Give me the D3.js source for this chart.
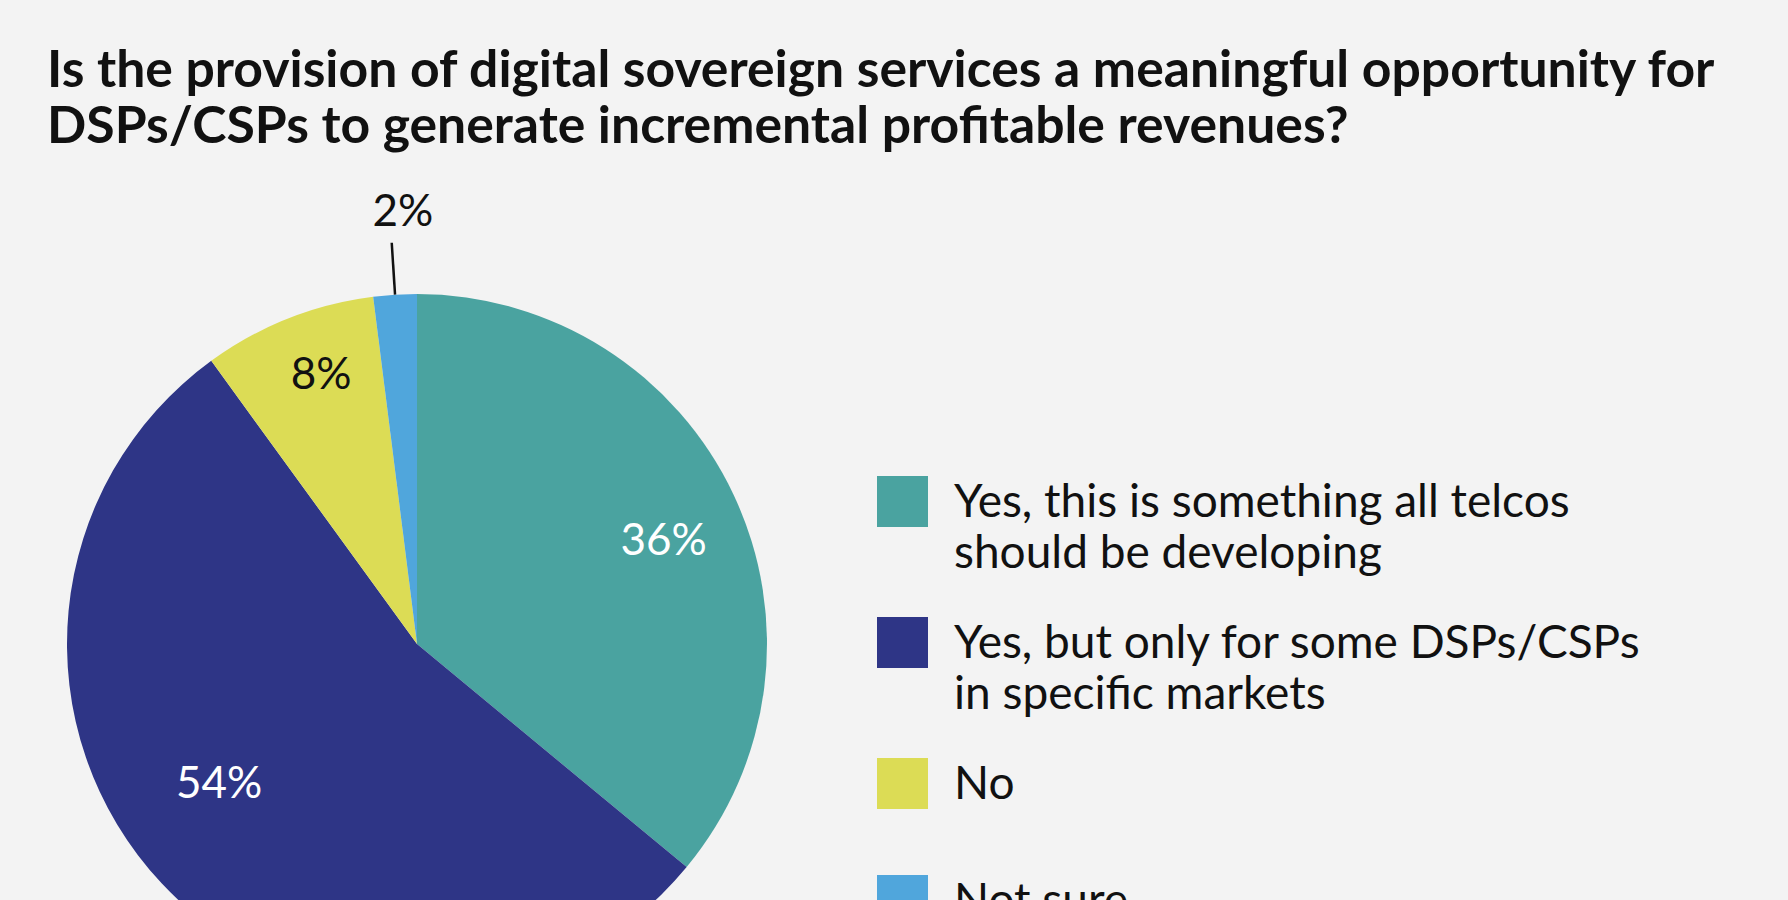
<!DOCTYPE html>
<html>
<head>
<meta charset="utf-8">
<script src="https://cdn.jsdelivr.net/npm/d3@7"></script>
<style>
  body { margin: 0; background: #f3f3f3; }
  svg { display: block; font-family: Lato, sans-serif; }
</style>
</head>
<body>
<svg width="1788" height="900"></svg>
<script>
var titleLines = ["Is the provision of digital sovereign services a meaningful opportunity for",
                  "DSPs/CSPs to generate incremental profitable revenues?"];
var answers = ["Yes, this is something all telcos should be developing",
               "Yes, but only for some DSPs/CSPs in specific markets",
               "No",
               "Not sure"];
var legendLines = [["Yes, this is something all telcos", "should be developing"],
                   ["Yes, but only for some DSPs/CSPs", "in specific markets"],
                   ["No"],
                   ["Not sure"]];
var shares = [36, 54, 8, 2];
var colors = ["#4aa3a0", "#2e3586", "#dcdc55", "#50a6dc"];

var svg = d3.select("svg");
var data = answers.map((a, i) => ({answer: a, value: shares[i], lines: legendLines[i]}));

// titolo
svg.append("text")
  .attr("x", 47).attr("y", 87)
  .style("font-weight", 700).style("font-size", "51.7px").style("fill", "#111")
  .selectAll("tspan").data(titleLines).enter().append("tspan")
    .attr("x", 47).attr("dy", (d, i) => i ? 56 : 0)
    .text(d => d);

var color = d3.scaleOrdinal().domain(answers).range(colors);
var radius = 350;
var pie = d3.pie().value(d => d.value).sort(null);
var arc = d3.arc().innerRadius(0).outerRadius(radius);
var labelArc = d3.arc().innerRadius(radius * 0.76).outerRadius(radius * 0.76);

var g = svg.append("g").attr("transform", "translate(417,644)");
var arcs = pie(data);

g.selectAll("path.slice")
  .data(arcs)
  .enter()
  .append("path")
    .attr("class", "slice")
    .attr("d", arc)
    .style("fill", d => color(d.data.answer));

// etichette interne per le fette grandi, la 54% va spostata in su
var nudge = {54: [-4, -44], 36: [6, 8], 8: [2, -24]};
g.selectAll("text.inside")
  .data(arcs.filter(d => d.data.value > 5))
  .enter()
  .append("text")
    .attr("class", "inside")
    .attr("transform", d => {
      var c = labelArc.centroid(d), n = nudge[d.data.value] || [0, 0];
      return `translate(${c[0] + n[0]},${c[1] + n[1]})`;
    })
    .attr("text-anchor", "middle")
    .attr("dy", "0.36em")
    .style("font-size", "44px")
    .style("fill", d => d.data.value === 8 ? "#111" : "#fff")
    .text(d => d.data.value + "%");

// etichetta esterna con linea guida per la fetta piccola
var small = arcs.filter(d => d.data.value <= 5);
var edgeArc = d3.arc().innerRadius(radius).outerRadius(radius);
var outArc = d3.arc().innerRadius(radius + 52).outerRadius(radius + 52);
g.selectAll("line.leader")
  .data(small)
  .enter()
  .append("line")
    .attr("class", "leader")
    .attr("x1", d => edgeArc.centroid(d)[0])
    .attr("y1", d => edgeArc.centroid(d)[1])
    .attr("x2", d => outArc.centroid(d)[0])
    .attr("y2", d => outArc.centroid(d)[1])
    .style("stroke", "#111").style("stroke-width", 2.5);
g.selectAll("text.outside")
  .data(small)
  .enter()
  .append("text")
    .attr("class", "outside")
    .attr("x", d => outArc.centroid(d)[0] + 11)
    .attr("y", d => outArc.centroid(d)[1] - 17)
    .attr("text-anchor", "middle")
    .style("font-size", "44px").style("fill", "#111")
    .text(d => d.data.value + "%");

// legenda: ogni voce occupa 93px + 24px per riga di testo
var legendTop = [];
data.reduce((y, d) => { legendTop.push(y); return y + 93 + 24 * d.lines.length; }, 476);
var legend = svg.selectAll("g.legend")
  .data(data)
  .enter()
  .append("g")
    .attr("class", "legend")
    .attr("transform", (d, i) => `translate(877,${legendTop[i]})`);
legend.append("rect")
  .attr("width", 51).attr("height", 51)
  .style("fill", d => color(d.answer));
legend.append("text")
  .style("font-size", "46px").style("fill", "#111")
  .selectAll("tspan").data(d => d.lines).enter().append("tspan")
    .attr("x", 77).attr("y", (d, i) => 41 + i * 51)
    .text(d => d);
</script>
</body>
</html>
